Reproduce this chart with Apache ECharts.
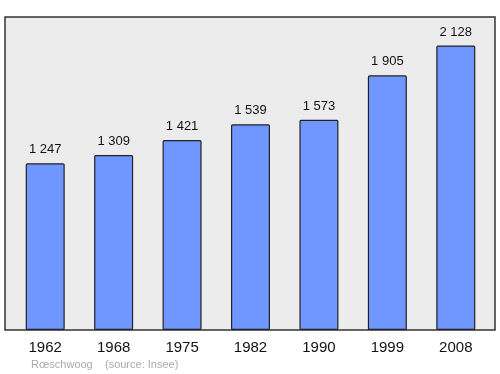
<!DOCTYPE html>
<html><head><meta charset="utf-8">
<script src="https://cdn.jsdelivr.net/npm/echarts@6/dist/echarts.min.js"></script>
<style>html,body{margin:0;padding:0;background:#fff}#c{width:500px;height:374px}</style>
</head><body><div id="c"></div>
<script>
var years = ['1962','1968','1975','1982','1990','1999','2008'];
var population = [1247,1309,1421,1539,1573,1905,2128];
var chart = echarts.init(document.getElementById('c'));
function fmt(v){ var s=String(v); return s.length>3 ? s.slice(0,s.length-3)+' '+s.slice(-3) : s; }
chart.setOption({
  animation:false,
  graphic:[
    {type:'rect',z:-10,shape:{x:5,y:17,width:490,height:313},style:{fill:'#ececec',stroke:'#333',lineWidth:1.5}},
    {type:'text',left:31,top:359,style:{text:'Rœschwoog    (source: Insee)',fill:'#aaa',font:'11px "Liberation Sans", Arial, sans-serif'}}
  ],
  grid:{left:11,right:10,top:17,bottom:44},
  xAxis:{type:'category',data:years,axisLine:{show:false},axisTick:{show:false},
    axisLabel:{color:'#111',fontSize:15,fontFamily:'Liberation Sans',margin:10}},
  yAxis:{type:'value',min:0,max:2341,show:false,splitLine:{show:false}},
  series:[{type:'bar',data:population,barWidth:39,
    itemStyle:{color:'#7097ff',borderColor:'#222',borderWidth:1.2,borderRadius:1},
    label:{show:true,position:'top',distance:7,color:'#111',fontSize:13,fontFamily:'Liberation Sans',
      formatter:function(p){return fmt(p.value);}}}]
});
</script></body></html>
